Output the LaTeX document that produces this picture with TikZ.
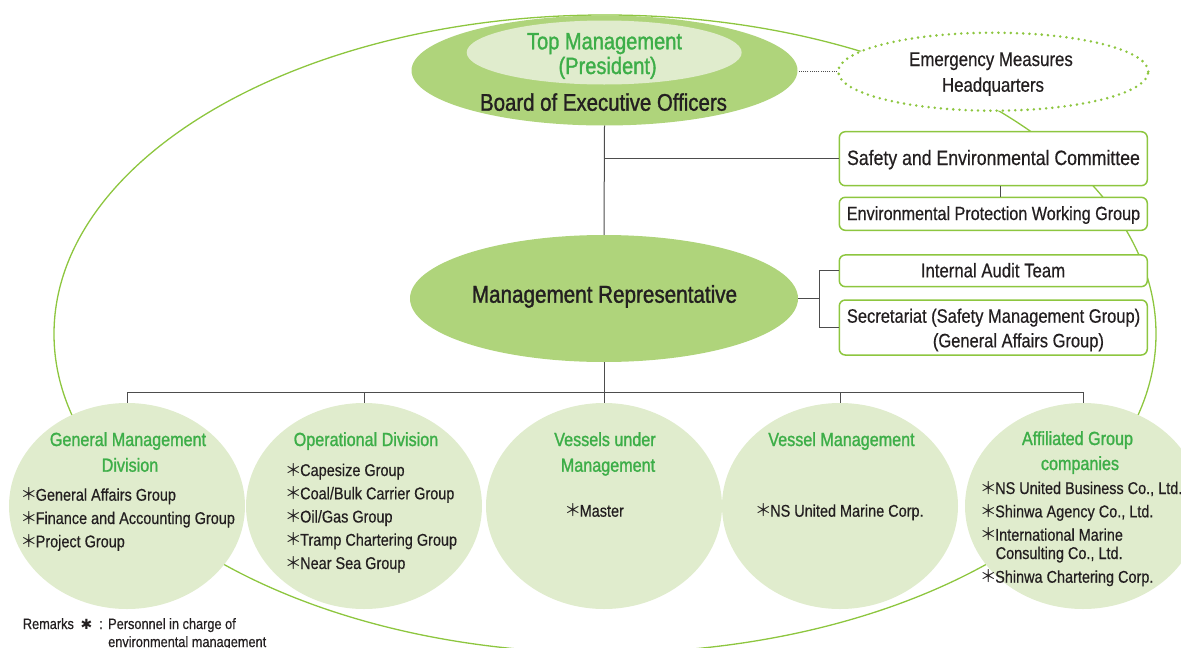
\documentclass[tikz,border=0pt]{standalone}
\usepackage{fontspec}
\setmainfont{Liberation Sans}[FakeStretch=0.85,FakeBold=0.5]
\newfontfamily\medfont{Liberation Sans}[FakeStretch=0.85,FakeBold=1.3]
\newfontfamily\cjkfont{Noto Sans CJK JP}
\newfontfamily\dejavu{DejaVu Sans}
\usetikzlibrary{shapes.geometric}
\definecolor{dkfill}{HTML}{AFD47B}
\definecolor{ltfill}{HTML}{E0ECCD}
\definecolor{grtext}{HTML}{3DAE48}
\definecolor{grline}{HTML}{8DC63F}
\definecolor{txtcol}{HTML}{231F20}
\definecolor{conncol}{HTML}{4D4D4D}
\newcommand\myast{\makebox[13.5pt][c]{\cjkfont ＊}}
\begin{document}
\begin{tikzpicture}[x=1pt,y=-1pt,
  conn/.style={draw=conncol,line width=1pt},
  lbl/.style={inner sep=0pt,text=txtcol,anchor=base},
  itm/.style={inner sep=0pt,text=txtcol,anchor=base west,font=\fontsize{17}{20}\selectfont},
  head/.style={inner sep=0pt,text=grtext,anchor=base,font=\fontsize{19}{22}\medfont},
  boxn/.style={draw=grline,line width=1.5pt,fill=white,rounded corners=6pt,minimum width=308pt,inner sep=0pt},
  circ/.style={ellipse,fill=ltfill,minimum width=236pt,minimum height=206pt,inner sep=0pt},
  bigell/.style={ellipse,fill=dkfill,inner sep=0pt}]
\useasboundingbox (0,0) rectangle (1181,648);
% outer cycle
\draw[grline,line width=1.3pt] (605,334) ellipse [x radius=551, y radius=319];

% top management
\node[bigell,minimum width=386pt,minimum height=110pt] (board) at (604.5,70.5) {};
\node[ellipse,fill=ltfill,inner sep=0pt,minimum width=275pt,minimum height=64pt] (top) at (604.2,52.5) {};
\node[lbl,text=grtext,font=\fontsize{23.6}{28}\medfont] (toptxt) at (604.5,49.3) {Top Management};
\node[lbl,text=grtext,font=\fontsize{23.6}{28}\medfont] (prestxt) at (607.6,74) {(President)};
\node[lbl,font=\fontsize{24}{28}\medfont] (boardtxt) at (603.5,110.7) {Board of Executive Officers};

% emergency
\node[ellipse,draw=grline,fill=white,line width=2.8pt,dash pattern=on 0pt off 6.2pt,line cap=round,
      minimum width=310pt,minimum height=78pt,inner sep=0pt] (emerg) at (993.3,71.7) {};
\node[lbl,font=\fontsize{19.8}{23}\selectfont] (emtxt1) at (991,66) {Emergency Measures};
\node[lbl,font=\fontsize{19.8}{23}\selectfont] (emtxt2) at (993,91.7) {Headquarters};

% boxes
\node[boxn,minimum height=54pt] (safety) at (993.3,158.7) {};
\node[lbl,font=\fontsize{20.8}{24}\selectfont] (safetytxt) at (993.5,165) {Safety and Environmental Committee};
\node[boxn,minimum height=33pt] (epwg) at (993.3,213.8) {};
\node[lbl,font=\fontsize{19}{22}\selectfont] (epwgtxt) at (993.5,220) {Environmental Protection Working Group};
\node[boxn,minimum height=31.7pt] (audit) at (993.3,270.8) {};
\node[lbl,font=\fontsize{19.7}{22}\selectfont] (audittxt) at (993,277.3) {Internal Audit Team};
\node[boxn,minimum height=55pt] (secr) at (993.3,327.5) {};
\node[lbl,anchor=base west,font=\fontsize{19.4}{22}\selectfont] (secrtxt1) at (846.7,322.7) {Secretariat (Safety Management Group)};
\node[lbl,anchor=base west,font=\fontsize{19.4}{22}\selectfont] (secrtxt2) at (932.7,347.3) {(General Affairs Group)};

% management representative
\node[bigell,minimum width=388pt,minimum height=127pt] (mgmt) at (604,298.5) {};
\node[lbl,font=\fontsize{24.3}{28}\medfont] (mgmttxt) at (604.5,302.7) {Management Representative};

% circles
\node[circ] (c1) at (127,506) {};
\node[circ] (c2) at (364,506) {};
\node[circ] (c3) at (604,506) {};
\node[circ] (c4) at (840,506) {};
\node[circ] (c5) at (1083,506) {};

% connectors
\draw[conn] (board.south) -- (mgmt.north);
\draw[conn] (safety.west) -- (safety.west -| board.south);
\draw[conn] ([xshift=7.4pt]safety.south) -- ([xshift=7.4pt]epwg.north);
\draw[conncol,line width=0.9pt,dash pattern=on 1pt off 1.2pt] (emerg.west) -- (emerg.west -| board.east);
\coordinate (fork) at (819.5,298.5);
\draw[conn] (mgmt.east) -- (fork);
\draw[conn] (audit.west) -| (fork) |- (secr.west);
\coordinate (bus) at (604,392);
\draw[conn] (mgmt.south) -- (bus);
\draw[conn] (c1.north |- bus) -- (c5.north |- bus);
\foreach \c in {c1,c2,c3,c4,c5} \draw[conn] (\c.north) -- (\c.north |- bus);

% circle 1
\node[head] (h1a) at (128,446) {General Management};
\node[head] (h1b) at (130,471.7) {Division};
\node[itm] (i1a) at (22,500.7) {\myast General Affairs Group};
\node[itm] (i1b) at (22,524) {\myast Finance and Accounting Group};
\node[itm] (i1c) at (22,547.3) {\myast Project Group};
% circle 2
\node[head] (h2a) at (366,446) {Operational Division};
\node[itm] (i2a) at (286.5,476) {\myast Capesize Group};
\node[itm] (i2b) at (286.5,499.3) {\myast Coal/Bulk Carrier Group};
\node[itm] (i2c) at (286.5,522.5) {\myast Oil/Gas Group};
\node[itm] (i2d) at (286.5,545.7) {\myast Tramp Chartering Group};
\node[itm] (i2e) at (286.5,569) {\myast Near Sea Group};
% circle 3
\node[head] (h3a) at (605,446) {Vessels under};
\node[head] (h3b) at (608,471.7) {Management};
\node[itm] (i3a) at (566,516.7) {\myast Master};
% circle 4
\node[head] (h4a) at (841.5,446) {Vessel Management};
\node[itm] (i4a) at (756.5,516.7) {\myast NS United Marine Corp.};
% circle 5
\node[head] (h5a) at (1077.5,445) {Affiliated Group};
\node[head] (h5b) at (1080,470) {companies};
\node[itm] (i5a) at (981.5,494) {\myast NS United Business Co., Ltd.};
\node[itm] (i5b) at (981.5,517.3) {\myast Shinwa Agency Co., Ltd.};
\node[itm] (i5c) at (981.5,540.7) {\myast International Marine};
\node[itm] (i5d) at (995.5,559) {Consulting Co., Ltd.};
\node[itm] (i5e) at (981.5,582.7) {\myast Shinwa Chartering Corp.};

% remarks
\node[lbl,anchor=base west,font=\fontsize{15}{18}\selectfont] (rem1) at (22.7,629) {Remarks};
\node[lbl,anchor=base west,font=\fontsize{14}{18}\dejavu] (rem2) at (80.5,629.5) {✱};
\node[lbl,anchor=base west,font=\fontsize{15}{18}\selectfont] (rem3) at (99,629) {:};
\node[lbl,anchor=base west,font=\fontsize{15}{18}\selectfont] (rem4) at (108,629) {Personnel in charge of};
\node[lbl,anchor=base west,font=\fontsize{15}{18}\selectfont] (rem5) at (108,647) {environmental management};
\end{tikzpicture}
\end{document}
